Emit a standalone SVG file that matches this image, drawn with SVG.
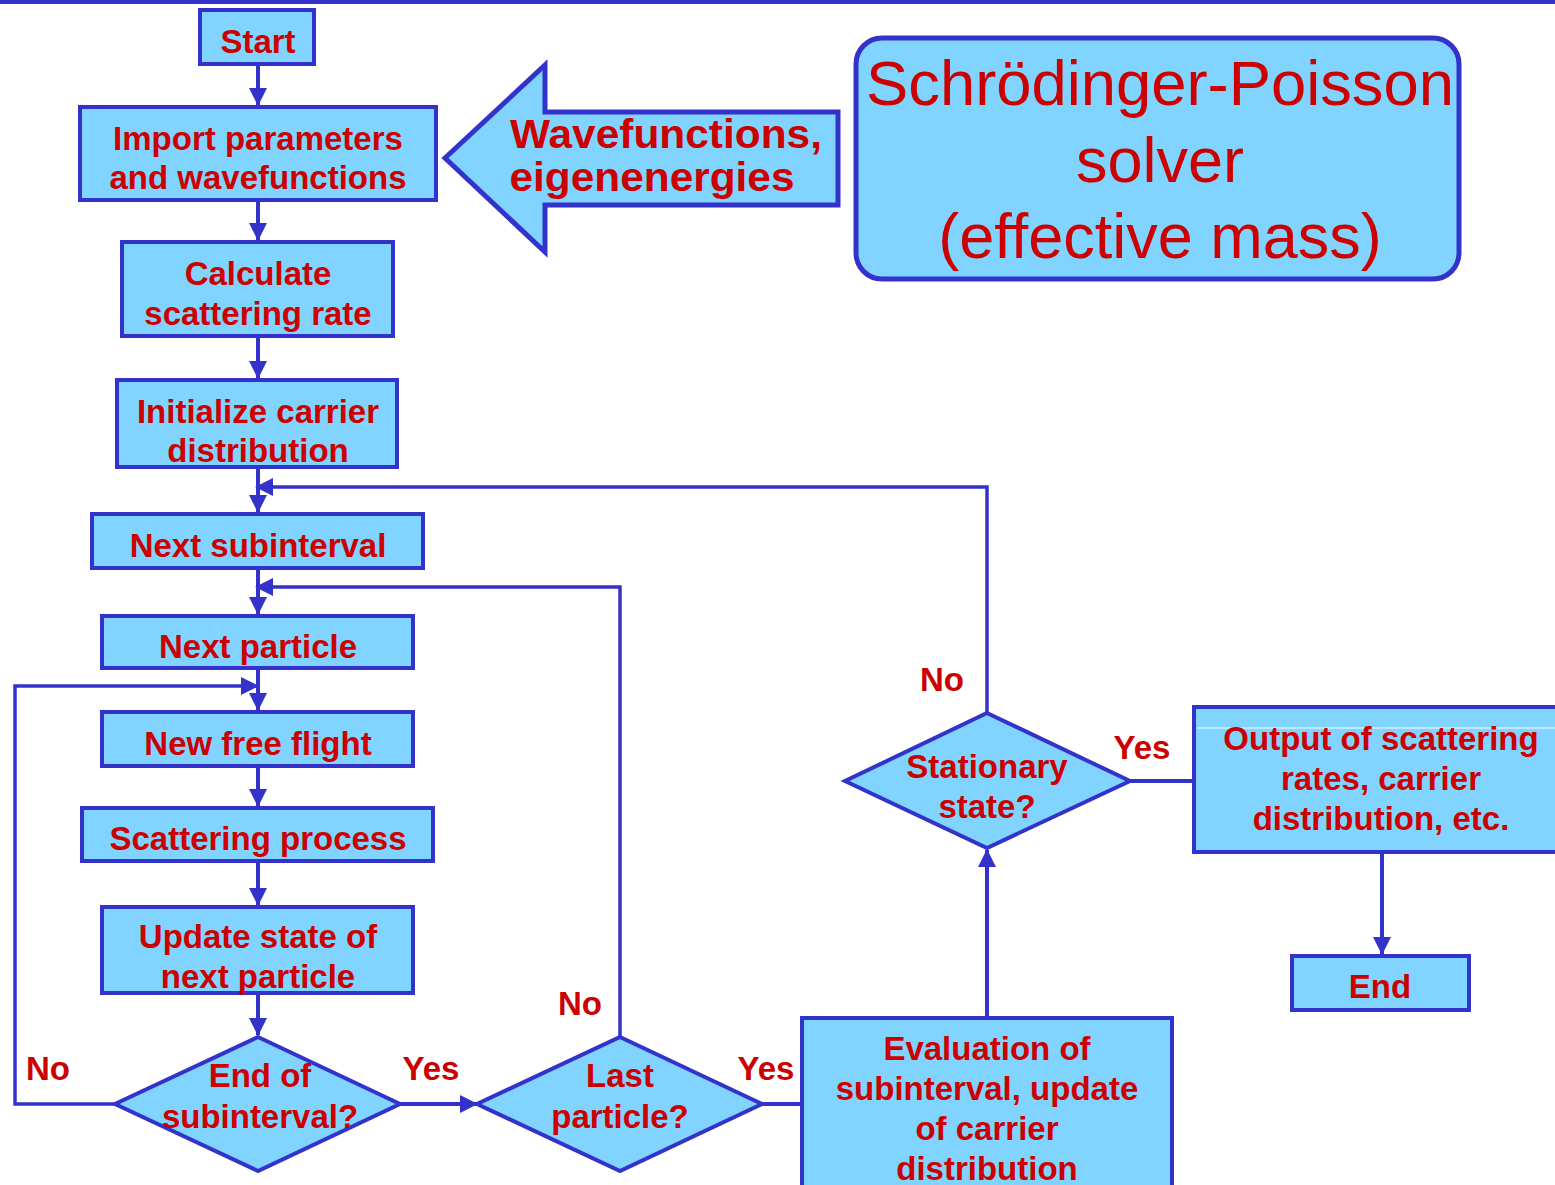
<svg xmlns="http://www.w3.org/2000/svg" width="1555" height="1185" viewBox="0 0 1555 1185">
<defs>
<style>
.box{fill:#80D4FF;stroke:#3333CC;stroke-width:4}
.t{font-family:"Liberation Sans",Arial,sans-serif;font-weight:bold;font-size:33px;fill:#CC0000;text-anchor:middle}
.lbl{font-family:"Liberation Sans",Arial,sans-serif;font-weight:bold;font-size:33px;fill:#CC0000;text-anchor:middle}
.c{fill:none;stroke:#3333CC;stroke-width:4}
.c3{fill:none;stroke:#3333CC;stroke-width:3.5}
.big{font-family:"Liberation Sans",Arial,sans-serif;font-size:63px;fill:#CC0000;text-anchor:middle}
.arr{font-family:"Liberation Sans",Arial,sans-serif;font-weight:bold;font-size:41px;fill:#CC0000;text-anchor:middle}
</style>
<marker id="ah" markerUnits="userSpaceOnUse" markerWidth="18" markerHeight="18" refX="17" refY="9" orient="auto" viewBox="0 0 18 18">
<path d="M0,0 L18,9 L0,18 z" fill="#3333CC"/>
</marker>
</defs>
<rect x="0" y="0" width="1555" height="4" fill="#3333CC"/>

<g id="connectors">
<path class="c" d="M258,64 V105" marker-end="url(#ah)"/>
<path class="c" d="M258,200 V240" marker-end="url(#ah)"/>
<path class="c" d="M258,336 V378" marker-end="url(#ah)"/>
<path class="c" d="M258,467 V512" marker-end="url(#ah)"/>
<path class="c3" d="M987,713 V487 H256" marker-end="url(#ah)"/>
<path class="c" d="M258,568 V614" marker-end="url(#ah)"/>
<path class="c3" d="M620,1037 V587 H256" marker-end="url(#ah)"/>
<path class="c" d="M258,668 V710" marker-end="url(#ah)"/>
<path class="c3" d="M115,1104 H15 V686 H258" marker-end="url(#ah)"/>
<path class="c" d="M258,766 V806" marker-end="url(#ah)"/>
<path class="c" d="M258,861 V905" marker-end="url(#ah)"/>
<path class="c" d="M258,993 V1035" marker-end="url(#ah)"/>
<path class="c" d="M400,1104 H477" marker-end="url(#ah)"/>
<path class="c" d="M762,1104 H802"/>
<path class="c" d="M987,1018 V850" marker-end="url(#ah)"/>
<path class="c" d="M1130,781 H1194"/>
<path class="c" d="M1382,852 V954" marker-end="url(#ah)"/>
</g>

<g id="start"><rect class="box" x="200" y="10" width="114" height="54"/><text class="t" x="258" y="53">Start</text></g>
<g id="import"><rect class="box" x="80" y="107" width="356" height="93"/><text class="t" x="258" y="150">Import parameters</text><text class="t" x="258" y="189">and wavefunctions</text></g>
<g id="calculate"><rect class="box" x="122" y="242" width="271" height="94"/><text class="t" x="258" y="285">Calculate</text><text class="t" x="258" y="325">scattering rate</text></g>
<g id="initialize"><rect class="box" x="117" y="380" width="280" height="87"/><text class="t" x="258" y="423">Initialize carrier</text><text class="t" x="258" y="462">distribution</text></g>
<g id="next-subinterval"><rect class="box" x="92" y="514" width="331" height="54"/><text class="t" x="258" y="557">Next subinterval</text></g>
<g id="next-particle"><rect class="box" x="102" y="616" width="311" height="52"/><text class="t" x="258" y="658">Next particle</text></g>
<g id="new-free-flight"><rect class="box" x="102" y="712" width="311" height="54"/><text class="t" x="258" y="755">New free flight</text></g>
<g id="scattering-process"><rect class="box" x="82" y="808" width="351" height="53"/><text class="t" x="258" y="850">Scattering process</text></g>
<g id="update-state"><rect class="box" x="102" y="907" width="311" height="86"/><text class="t" x="258" y="948">Update state of</text><text class="t" x="258" y="988">next particle</text></g>
<g id="end-of-subinterval"><polygon class="box" points="258,1037 400,1104 258,1171 115,1104"/><text class="t" x="260" y="1087">End of</text><text class="t" x="260" y="1128">subinterval?</text></g>
<g id="last-particle"><polygon class="box" points="620,1037 762,1104 620,1171 477,1104"/><text class="t" x="620" y="1087">Last</text><text class="t" x="620" y="1128">particle?</text></g>
<g id="evaluation"><rect class="box" x="802" y="1018" width="370" height="180"/><text class="t" x="987" y="1060">Evaluation of</text><text class="t" x="987" y="1100">subinterval, update</text><text class="t" x="987" y="1140">of carrier</text><text class="t" x="987" y="1180">distribution</text></g>
<g id="stationary"><polygon class="box" points="987,713 1130,781 987,848 845,781"/><text class="t" x="987" y="778">Stationary</text><text class="t" x="987" y="818">state?</text></g>
<g id="output"><rect class="box" x="1194" y="707" width="370" height="145"/><line x1="1197" y1="728" x2="1555" y2="728" stroke="#FFFFFF" stroke-width="1"/><text class="t" x="1381" y="750">Output of scattering</text><text class="t" x="1381" y="790">rates, carrier</text><text class="t" x="1381" y="830">distribution, etc.</text></g>
<g id="end"><rect class="box" x="1292" y="956" width="177" height="54"/><text class="t" x="1380" y="998">End</text></g>
<g id="sp-solver"><rect x="856" y="38" width="603" height="241" rx="26" ry="26" fill="#80D4FF" stroke="#3333CC" stroke-width="5"/><text class="big" x="1160" y="105" textLength="588" lengthAdjust="spacingAndGlyphs">Schrödinger-Poisson</text><text class="big" x="1160" y="182">solver</text><text class="big" x="1160" y="258">(effective mass)</text></g>
<g id="data-arrow"><polygon points="445,158 545,65 545,112 838,112 838,205 545,205 545,252" fill="#80D4FF" stroke="#3333CC" stroke-width="5" stroke-linejoin="miter"/><text class="arr" x="666" y="148" textLength="312" lengthAdjust="spacingAndGlyphs">Wavefunctions,</text><text class="arr" x="652" y="191" textLength="285" lengthAdjust="spacingAndGlyphs">eigenenergies</text></g>

<g id="labels">
<text class="lbl" x="48" y="1080">No</text>
<text class="lbl" x="431" y="1080">Yes</text>
<text class="lbl" x="580" y="1015">No</text>
<text class="lbl" x="766" y="1080">Yes</text>
<text class="lbl" x="942" y="691">No</text>
<text class="lbl" x="1142" y="759">Yes</text>
</g>
</svg>
